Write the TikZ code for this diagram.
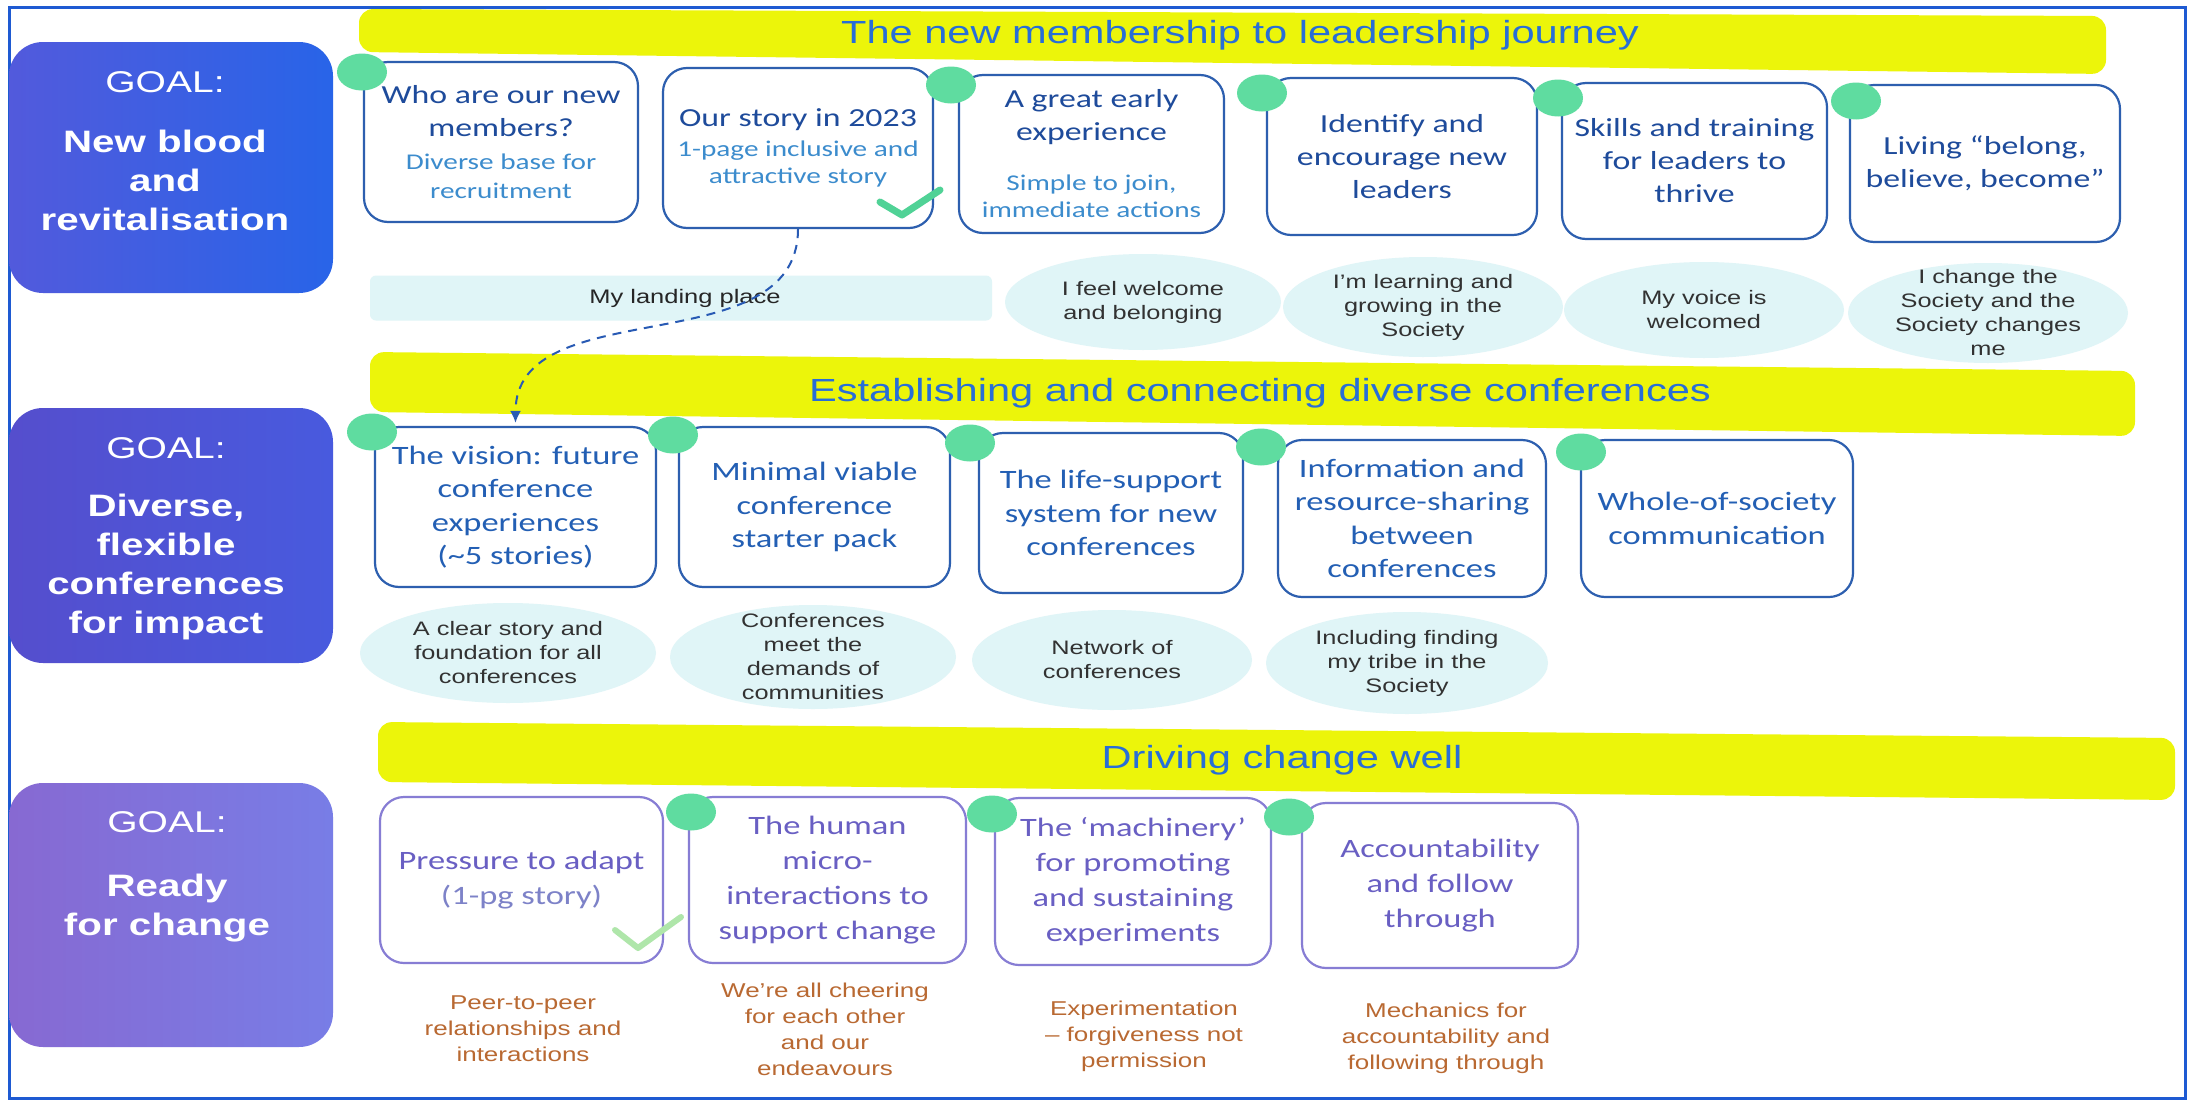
\documentclass[tikz,border=0pt]{standalone}
\usepackage{fontspec}
\setmainfont{Liberation Sans}[FakeStretch=1.3]
\newfontfamily\calfont{Carlito}[FakeStretch=1.3]
\usetikzlibrary{shapes.geometric,arrows.meta}
\definecolor{frameblue}{RGB}{30,90,210}
\definecolor{barY}{RGB}{236,245,10}
\definecolor{ttlblue}{RGB}{40,110,215}
\definecolor{boxblue}{RGB}{45,95,175}
\definecolor{boxpurple}{RGB}{135,125,212}
\definecolor{tdark}{RGB}{30,75,155}
\definecolor{subblue}{RGB}{60,140,205}
\definecolor{rtwo}{RGB}{35,95,180}
\definecolor{rthree}{RGB}{105,95,195}
\definecolor{rthreelight}{RGB}{125,130,200}
\definecolor{dotgreen}{RGB}{95,220,160}
\definecolor{checkA}{RGB}{80,210,150}
\definecolor{checkB}{RGB}{175,230,170}
\definecolor{ellfill}{RGB}{224,245,247}
\definecolor{elltext}{RGB}{50,50,50}
\definecolor{orangetext}{RGB}{185,105,50}
\definecolor{arrowblue}{RGB}{40,90,180}
\definecolor{gOneA}{RGB}{82,90,220}
\definecolor{gOneB}{RGB}{40,100,232}
\definecolor{gTwoA}{RGB}{85,78,205}
\definecolor{gTwoB}{RGB}{72,90,222}
\definecolor{gThreeA}{RGB}{135,105,210}
\definecolor{gThreeB}{RGB}{120,125,230}
\newcommand\subf{\fontsize{22.5}{27}\selectfont\color{subblue}}
\begin{document}
\begin{tikzpicture}[x=1pt,y=-1pt,
  goal/.style={rounded corners=34pt, inner sep=0pt},
  goalhead/.style={text=white, font=\fontsize{30}{36}\selectfont},
  goalbody/.style={text=white, align=center, font=\bfseries\fontsize{31}{39}\selectfont},
  bar/.style={fill=barY, rounded corners=14pt},
  ttl/.style={text=ttlblue, font=\fontsize{32}{38}\selectfont},
  box/.style={draw=boxblue, line width=2.2pt, rounded corners=24pt, fill=white, align=center, inner sep=0pt, text=tdark, font=\calfont\fontsize{26}{33}\selectfont},
  rtwobox/.style={box, text=rtwo, font=\calfont\fontsize{26.5}{33.5}\selectfont},
  rthreebox/.style={box, draw=boxpurple, text=rthree, font=\calfont\fontsize{26.5}{35}\selectfont},
  dot/.style={ellipse, fill=dotgreen, minimum width=50pt, minimum height=37pt, inner sep=0pt},
  ell/.style={ellipse, fill=ellfill, inner sep=0pt},
  etext/.style={align=center, text=elltext, font=\fontsize{19.5}{24}\selectfont},
  otext/.style={align=center, text=orangetext, font=\fontsize{20}{26}\selectfont},
  check/.style={line width=7pt, line cap=round, line join=round}
]
\useasboundingbox (0,0) rectangle (2193,1100);
\fill[white] (0,0) rectangle (2193,1100);
\draw[frameblue, line width=3pt] (9,7) rectangle (2185,1098);

% yellow bars
\fill[bar] (359,9) -- (2106,16) -- (2106,74) -- (359,52) -- cycle;
\fill[bar] (370,352) -- (2135,371) -- (2135,436) -- (370,412) -- cycle;
\fill[bar] (378,722) -- (2175,738) -- (2175,800) -- (378,782) -- cycle;
\node[ttl] (t1) at (1240,35) {The new membership to leadership journey};
\node[ttl] (t2) at (1260,393) {Establishing and connecting diverse conferences};
\node[ttl] (t3) at (1282,760) {Driving change well};

% goal boxes
\node[goal, left color=gOneA, right color=gOneB, minimum width=324pt, minimum height=251pt] (goal1) at (171,167.5) {};
\node[goalhead] (goal1h) at (165,82) {GOAL:};
\node[goalbody] (goal1t) at (165,180) {New blood\\and\\revitalisation};
\node[goal, left color=gTwoA, right color=gTwoB, minimum width=324pt, minimum height=255pt] (goal2) at (171,535.5) {};
\node[goalhead] (goal2h) at (166,448) {GOAL:};
\node[goalbody] (goal2t) at (166,567) {Diverse,\\flexible\\conferences\\for impact};
\node[goal, left color=gThreeA, right color=gThreeB, minimum width=324pt, minimum height=264pt] (goal3) at (171,915) {};
\node[goalhead] (goal3h) at (167,822) {GOAL:};
\node[goalbody] (goal3t) at (167,908) {Ready\\for change};

% row 1 boxes
\node[box, minimum width=274pt, minimum height=160pt] (b11) at (501,142)
  {Who are our new\\members?\\\subf Diverse base for\\[-4pt]\subf recruitment};
\node[box, minimum width=270pt, minimum height=160pt] (b12) at (798,148)
  {Our story in 2023\\[-3pt]\subf 1-page inclusive and\\[-6pt]\subf attractive story};
\node[box, minimum width=265pt, minimum height=158pt] (b13) at (1091.5,154)
  {A great early\\experience\\[17pt]\subf Simple to join,\\[-6pt]\subf immediate actions};
\node[box, minimum width=270pt, minimum height=157pt] (b14) at (1402,156.5) {Identify and\\encourage new\\leaders};
\node[box, minimum width=265pt, minimum height=156pt] (b15) at (1694.5,161) {Skills and training\\for leaders to\\thrive};
\node[box, minimum width=270pt, minimum height=157pt] (b16) at (1985,163.5) {Living “belong,\\believe, become”};

% row 1 outcomes
\node[fill=ellfill, rounded corners=6pt, minimum width=622pt, minimum height=45pt, inner sep=0pt, text=black!85, font=\fontsize{19.6}{24}\selectfont] (land) at (681,298) {\hspace*{8pt}My landing place};
\node[ell, minimum width=276pt, minimum height=96pt] (e12) at (1143,302) {};
\node[etext] (e12t) at (e12) {I feel welcome\\and belonging};
\node[ell, minimum width=280pt, minimum height=100pt] (e13) at (1423,307) {};
\node[etext] (e13t) at (e13) {I’m learning and\\growing in the\\Society};
\node[ell, minimum width=280pt, minimum height=96pt] (e14) at (1704,310) {};
\node[etext] (e14t) at (e14) {My voice is\\welcomed};
\node[ell, minimum width=280pt, minimum height=100pt] (e15) at (1988,313) {};
\node[etext] (e15t) at (e15) {I change the\\Society and the\\Society changes\\me};

% row 2 boxes
\node[rtwobox, minimum width=281pt, minimum height=160pt] (b21) at (515.5,507) {The vision: future\\conference\\experiences\\(\textasciitilde5 stories)};
\node[rtwobox, minimum width=271pt, minimum height=160pt] (b22) at (814.5,507) {Minimal viable\\conference\\starter pack};
\node[rtwobox, minimum width=264pt, minimum height=160pt] (b23) at (1111,513) {The life-support\\system for new\\conferences};
\node[rtwobox, minimum width=268pt, minimum height=157pt] (b24) at (1412,518.5) {Information and\\resource-sharing\\between\\conferences};
\node[rtwobox, minimum width=272pt, minimum height=157pt] (b25) at (1717,518.5) {Whole-of-society\\communication};

% row 2 outcomes
\node[ell, minimum width=296pt, minimum height=100pt] (e21) at (508,653) {};
\node[etext] (e21t) at (e21) {A clear story and\\foundation for all\\conferences};
\node[ell, minimum width=286pt, minimum height=104pt] (e22) at (813,657) {};
\node[etext] (e22t) at (e22) {Conferences\\meet the\\demands of\\communities};
\node[ell, minimum width=280pt, minimum height=100pt] (e23) at (1112,660) {};
\node[etext] (e23t) at (e23) {Network of\\conferences};
\node[ell, minimum width=282pt, minimum height=102pt] (e24) at (1407,663) {};
\node[etext] (e24t) at (e24) {Including finding\\my tribe in the\\Society};

% row 3 boxes
\node[rthreebox, minimum width=283pt, minimum height=166pt] (b31) at (521.5,880) {Pressure to adapt\\{\color{rthreelight}(1-pg story)}};
\node[rthreebox, minimum width=277pt, minimum height=166pt] (b32) at (827.5,880) {The human\\micro-\\interactions to\\support change};
\node[rthreebox, minimum width=276pt, minimum height=167pt] (b33) at (1133,881.5) {The ‘machinery’\\for promoting\\and sustaining\\experiments};
\node[rthreebox, minimum width=276pt, minimum height=165pt] (b34) at (1440,885.5) {Accountability\\and follow\\through};

% row 3 outcomes
\node[otext] (o31) at (523,1029) {Peer-to-peer\\relationships and\\interactions};
\node[otext] (o32) at (825,1029) {We’re all cheering\\for each other\\and our\\endeavours};
\node[otext] (o33) at (1144,1036) {Experimentation\\– forgiveness not\\permission};
\node[otext] (o34) at (1446,1038) {Mechanics for\\accountability and\\following through};

% green dots
\node[dot] (d11) at (362,72) {};
\node[dot] (d13) at (951,85) {};
\node[dot] (d14) at (1262,93) {};
\node[dot] (d15) at (1558,98) {};
\node[dot] (d16) at (1856,101) {};
\node[dot] (d21) at (372,432) {};
\node[dot] (d22) at (673,435) {};
\node[dot] (d23) at (970,443) {};
\node[dot] (d24) at (1261,447) {};
\node[dot] (d25) at (1581,452) {};
\node[dot] (d32) at (691,812) {};
\node[dot] (d33) at (992,814) {};
\node[dot] (d34) at (1289,817) {};

% check marks
\draw[check, checkA] (880,202) -- (902,215) -- (940,190);
\draw[check, checkB, line width=6pt] (615,930) -- (638,948) -- (681,917);

% dashed connector
\draw[arrowblue, line width=2pt, dash pattern=on 9pt off 7pt, -{Latex[length=12pt,width=11pt]}, shorten >=3pt]
  (b12.south) .. controls +(0,136) and +(0,-136) .. (b21.north);
\end{tikzpicture}
\end{document}
